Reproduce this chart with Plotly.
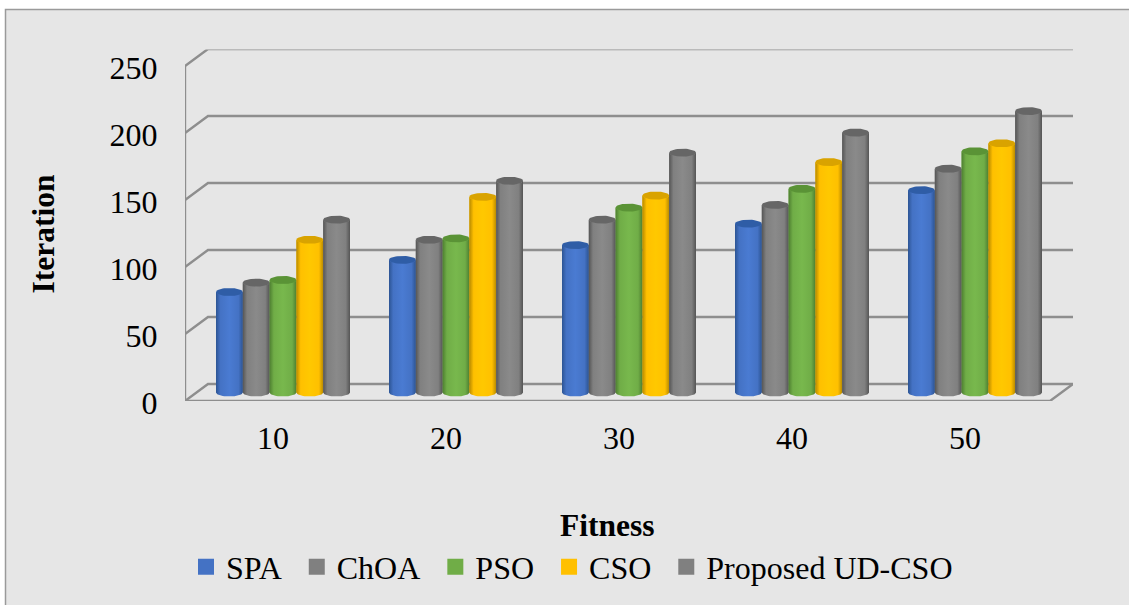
import math
import plotly.graph_objects as go

WIDTH, HEIGHT = 1129, 605

fitness = [10, 20, 30, 40, 50]
series_names = ["SPA", "ChOA", "PSO", "CSO", "Proposed UD-CSO"]
spa = [75, 99, 110, 126, 151]
choa = [82, 114, 129, 140, 167]
pso = [84, 115, 138, 152, 180]
cso = [114, 146, 147, 172, 186]
proposed = [129, 158, 179, 194, 210]
y_ticks = [0, 50, 100, 150, 200, 250]

swatch = ["#4472C4", "#808080", "#70AD47", "#FFC000", "#808080"]
light = ["#4A7BD2", "#8A8A8A", "#78B84D", "#FFC800", "#8A8A8A"]
edge = ["#2C5493", "#555555", "#4E7F31", "#B88A00", "#555555"]
cap = ["#2F5DA6", "#666666", "#5A9336", "#D9A300", "#666666"]
GRID = "#8E8E8E"
PANEL = "#E6E6E6"

# Plot frame in pixels; axis ranges below are picked so that one fitness unit
# is 17.3 px and one iteration unit is 1.34 px.
PX_L, PX_R, PX_B, PX_T = 185, 1073, 401, 49.5
PX_PER_X, PX_PER_Y = 17.3, 1.34
x_lo = 10 + (PX_L - 273) / PX_PER_X
x_hi = x_lo + (PX_R - PX_L) / PX_PER_X
y_lo = 0
y_hi = (PX_B - PX_T) / PX_PER_Y

# Oblique depth of the fake 3-D box, and where the bars sit inside it.
depth_x = 23 / PX_PER_X
depth_y = 17 / PX_PER_Y
bar_base = 8.5 / PX_PER_Y
group_shift = 10 / PX_PER_X
bar_w = 26.8 / PX_PER_X
ellipse_h = 4.0 / PX_PER_Y
floor_w = 865 / PX_PER_X

fig = go.Figure()

# Back wall, side wall and floor lines.
for v in y_ticks:
    fig.add_trace(go.Scatter(
        x=[x_lo, x_lo + depth_x, x_lo + depth_x + floor_w],
        y=[v, v + depth_y, v + depth_y],
        mode="lines", line=dict(color=GRID, width=2.4),
        hoverinfo="skip", showlegend=False))
fig.add_trace(go.Scatter(
    x=[x_lo, x_lo, x_lo + floor_w, x_lo + floor_w + depth_x],
    y=[y_ticks[-1], 0, 0, depth_y],
    mode="lines", line=dict(color=GRID, width=2.4),
    hoverinfo="skip", showlegend=False))


def half_ellipse(cx, cy, upper, n=24):
    xs, ys = [], []
    for k in range(n + 1):
        t = math.pi * k / n
        xs.append(cx - bar_w / 2 * math.cos(t))
        ys.append(cy + ellipse_h * math.sin(t) if upper else cy - ellipse_h * math.sin(t))
    return xs, ys


all_series = [spa, choa, pso, cso, proposed]
for j, (name, values) in enumerate(zip(series_names, all_series)):
    xs = [f + group_shift + (j - 2) * bar_w for f in fitness]
    # Flat column underneath carrying the value.
    fig.add_trace(go.Bar(
        x=xs, y=values, base=bar_base, width=bar_w, name=name,
        marker=dict(color=swatch[j], line=dict(width=0)),
        showlegend=False, hovertemplate=name + ": %{y}<extra></extra>"))
    # Legend entry; the trailing spaces widen the gap to the next entry.
    fig.add_trace(go.Scatter(
        x=[None], y=[None], mode="markers", name=name + "\u00a0\u00a0",
        marker=dict(symbol="square", size=16, color=swatch[j]),
        hoverinfo="skip"))

# Cylinder bodies and caps are drawn in series order so neighbours overlap left to right.
for j, values in enumerate(all_series):
    for f, val in zip(fitness, values):
        cx = f + group_shift + (j - 2) * bar_w
        top = bar_base + val
        bx, by = half_ellipse(cx, bar_base, upper=False)
        tx, ty = half_ellipse(cx, top, upper=False)
        # Body outline: round bottom, up the side, along the front edge of the top.
        px = bx + tx[::-1]
        py = by + ty[::-1]
        fig.add_trace(go.Scatter(
            x=px + [px[0]], y=py + [py[0]], mode="lines", fill="toself",
            line=dict(width=0),
            fillgradient=dict(
                type="horizontal",
                colorscale=[[0, edge[j]], [0.16, swatch[j]], [0.5, light[j]],
                            [0.84, swatch[j]], [1, edge[j]]]),
            hoverinfo="skip", showlegend=False))
        ux, uy = half_ellipse(cx, top, upper=True)
        lx, ly = half_ellipse(cx, top, upper=False)
        fig.add_trace(go.Scatter(
            x=ux + lx[::-1], y=uy + ly[::-1], mode="lines", fill="toself",
            line=dict(width=0), fillcolor=cap[j],
            hoverinfo="skip", showlegend=False))

serif = "Liberation Serif"
fig.update_layout(
    width=WIDTH, height=HEIGHT, autosize=False,
    margin=dict(l=0, r=0, t=0, b=0, pad=0),
    paper_bgcolor="white", plot_bgcolor="rgba(0,0,0,0)",
    barmode="overlay", showlegend=True,
    font=dict(family=serif, size=32, color="black"),
    xaxis=dict(
        domain=[PX_L / WIDTH, PX_R / WIDTH], range=[x_lo, x_hi],
        tickmode="array", tickvals=fitness, ticktext=[str(f) for f in fitness],
        showgrid=False, zeroline=False, showline=False,
        ticks="outside", ticklen=9, tickcolor="rgba(0,0,0,0)",
        tickfont=dict(family=serif, size=32), automargin=False),
    yaxis=dict(
        domain=[1 - PX_B / HEIGHT, 1 - PX_T / HEIGHT], range=[y_lo, y_hi],
        tickmode="array", tickvals=y_ticks, ticktext=[str(v) for v in y_ticks],
        showgrid=False, zeroline=False, showline=False,
        ticks="outside", ticklen=20, tickcolor="rgba(0,0,0,0)",
        ticklabelshift=2,
        tickfont=dict(family=serif, size=32), automargin=False),
    legend=dict(
        orientation="h", x=192 / WIDTH, xanchor="left",
        y=1 - 567 / HEIGHT, yanchor="middle", indentation=-6,
        bgcolor="rgba(0,0,0,0)", borderwidth=0,
        font=dict(family=serif, size=32), itemwidth=30),
    shapes=[dict(
        type="rect", xref="paper", yref="paper", layer="below",
        x0=5.5 / WIDTH, x1=1.01, y0=-0.01, y1=1 - 9.5 / HEIGHT,
        fillcolor=PANEL, line=dict(color="#9A9A9A", width=1.5))],
    annotations=[
        dict(text="<b>Fitness</b>", xref="paper", yref="paper",
             x=607.5 / WIDTH, y=1 - 525 / HEIGHT, showarrow=False,
             xanchor="center", yanchor="middle",
             font=dict(family=serif, size=31.5, color="black")),
        dict(text="<b>Iteration</b>", xref="paper", yref="paper",
             x=43 / WIDTH, y=1 - 234.5 / HEIGHT, showarrow=False, textangle=-90,
             xanchor="center", yanchor="middle",
             font=dict(family=serif, size=31.5, color="black")),
    ],
)

fig.write_html("out.html")
